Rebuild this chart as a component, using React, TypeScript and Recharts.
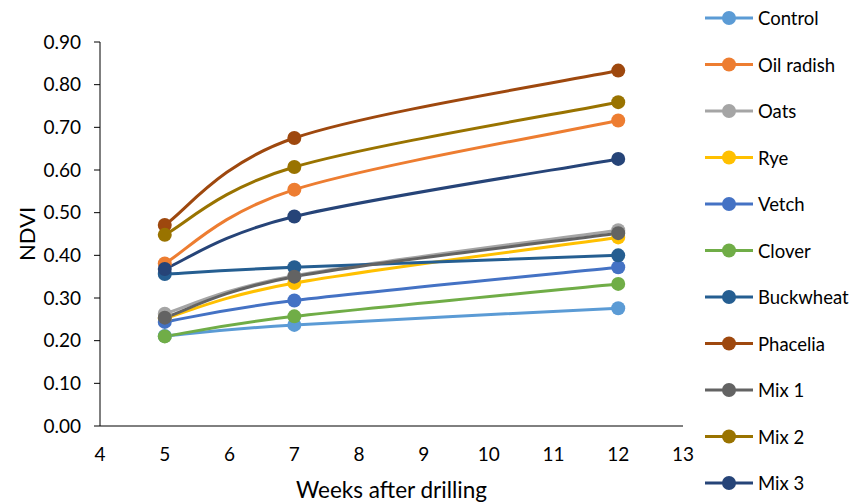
import React from "react";
import { LineChart, Line, XAxis, YAxis, Label } from "recharts";

// weeks after drilling
const weeks = [5, 7, 12];

// NDVI per cover crop
const control = [0.211, 0.237, 0.276];
const oilRadish = [0.381, 0.554, 0.716];
const oats = [0.263, 0.352, 0.459];
const rye = [0.252, 0.335, 0.442];
const vetch = [0.244, 0.294, 0.372];
const clover = [0.21, 0.257, 0.333];
const buckwheat = [0.356, 0.372, 0.4];
const phacelia = [0.471, 0.675, 0.833];
const mix1 = [0.254, 0.35, 0.452];
const mix2 = [0.448, 0.607, 0.759];
const mix3 = [0.368, 0.491, 0.626];

const xTicks = [4, 5, 6, 7, 8, 9, 10, 11, 12, 13];
const yTicks = [0, 0.1, 0.2, 0.3, 0.4, 0.5, 0.6, 0.7, 0.8, 0.9];

const SERIES = [
  { key: "Control", values: control, color: "#5B9BD5" },
  { key: "Oil radish", values: oilRadish, color: "#ED7D31" },
  { key: "Oats", values: oats, color: "#A5A5A5" },
  { key: "Rye", values: rye, color: "#FFC000" },
  { key: "Vetch", values: vetch, color: "#4472C4" },
  { key: "Clover", values: clover, color: "#70AD47" },
  { key: "Buckwheat", values: buckwheat, color: "#255E91" },
  { key: "Phacelia", values: phacelia, color: "#9E480E" },
  { key: "Mix 1", values: mix1, color: "#636363" },
  { key: "Mix 2", values: mix2, color: "#997300" },
  { key: "Mix 3", values: mix3, color: "#264478" },
];

const data = weeks.map((w, i) => {
  const row: Record<string, number> = { week: w };
  SERIES.forEach((s) => {
    row[s.key] = s.values[i];
  });
  return row;
});

const FONT = "Lato, 'Open Sans', sans-serif";

// spreadsheet-style smoothing: cubic bezier with catmull-rom tangents
const smoothCurve = (context: any) => {
  let pts: [number, number][] = [];
  return {
    areaStart() {},
    areaEnd() {},
    lineStart() {
      pts = [];
    },
    point(x: number, y: number) {
      pts.push([x, y]);
    },
    lineEnd() {
      if (!pts.length) return;
      context.moveTo(pts[0][0], pts[0][1]);
      for (let i = 0; i < pts.length - 1; i++) {
        const p0 = pts[i - 1] || pts[i];
        const p1 = pts[i];
        const p2 = pts[i + 1];
        const p3 = pts[i + 2] || p2;
        context.bezierCurveTo(
          p1[0] + (p2[0] - p0[0]) / 6,
          p1[1] + (p2[1] - p0[1]) / 6,
          p2[0] - (p3[0] - p1[0]) / 6,
          p2[1] - (p3[1] - p1[1]) / 6,
          p2[0],
          p2[1]
        );
      }
    },
  };
};

const LegendBox = () => (
  <svg width={162} height={504} style={{ position: "absolute", left: 697, top: 0 }}>
    {SERIES.map((s, i) => {
      const y = 18 + i * 46.5;
      return (
        <g key={s.key}>
          <line x1={8} x2={56} y1={y} y2={y} stroke={s.color} strokeWidth={3} />
          <circle cx={32} cy={y} r={7} fill={s.color} />
          <text
            x={61}
            y={y}
            dominantBaseline="central"
            fontSize={18.5}
            fontFamily={FONT}
            fill="#000"
          >
            {s.key}
          </text>
        </g>
      );
    })}
  </svg>
);

export default function App() {
  return (
    <div style={{ position: "absolute", left: 0, top: 0, width: 859, height: 504, background: "#fff" }}>
      <LineChart
        width={859}
        height={504}
        data={data}
        margin={{ top: 42, right: 176, bottom: 0, left: 0 }}
      >
        <XAxis
          dataKey="week"
          type="number"
          domain={[4, 13]}
          ticks={xTicks}
          height={78}
          stroke="#000"
          tickLine={false}
          tickSize={6}
          tickMargin={16}
          tick={{ fill: "#000", fontSize: 19, fontFamily: FONT }}
        >
          <Label
            value="Weeks after drilling"
            position="insideBottom"
            offset={6}
            style={{ fill: "#000", fontSize: 22.5, fontFamily: FONT }}
          />
        </XAxis>
        <YAxis
          type="number"
          domain={[0, 0.9]}
          ticks={yTicks}
          width={100}
          stroke="#000"
          tickSize={6}
          tickMargin={13}
          tickFormatter={(v: number) => v.toFixed(2)}
          tick={{ fill: "#000", fontSize: 19, fontFamily: FONT }}
        >
          <Label
            value="NDVI"
            angle={-90}
            position="insideLeft"
            offset={27}
            style={{ fill: "#000", fontSize: 22, fontFamily: FONT, textAnchor: "middle" }}
          />
        </YAxis>
        {SERIES.map((s) => (
          <Line
            key={s.key}
            type={smoothCurve as any}
            dataKey={s.key}
            stroke={s.color}
            strokeWidth={3}
            dot={{ r: 7, fill: s.color, stroke: s.color, strokeWidth: 0 }}
            activeDot={false}
            isAnimationActive={false}
          />
        ))}
      </LineChart>
      <LegendBox />
    </div>
  );
}
